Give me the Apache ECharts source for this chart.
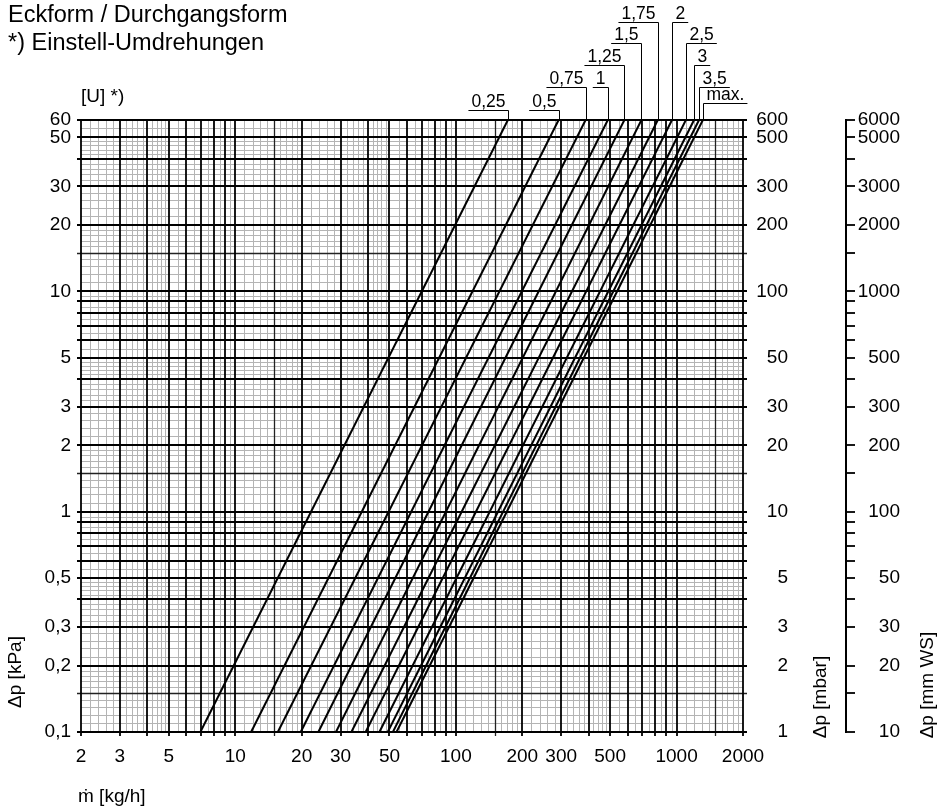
<!DOCTYPE html>
<html><head><meta charset="utf-8">
<script src="https://cdn.jsdelivr.net/npm/echarts@6/dist/echarts.min.js"></script>
<style>html,body{margin:0;padding:0;background:#fff}#c{width:937px;height:810px}</style>
</head><body><div id="c"></div>
<script>
// ---- data ----
const settings = ['0,25','0,5','0,75','1','1,25','1,5','1,75','2','2,5','3','3,5','max.'];
// mass flow (kg/h) where each characteristic crosses Δp = 0.1 kPa (bottom) and Δp = 60 kPa (top)
const flowAtMinDp = [6.95, 11.8, 15.6, 19.8, 23.8, 28.6, 33.6, 39.0, 45.0, 49.1, 51.8, 53.8];
const flowAtMaxDp = [172, 292, 387, 488, 580, 693, 822, 953, 1102, 1200, 1264, 1316];
const dpMin = 0.1, dpMax = 60;
const flowMin = 2, flowMax = 2000;
const xTickValues = [2,3,5,10,20,30,50,100,200,300,500,1000,2000];
const xTickLabels = ['2','3','5','10','20','30','50','100','200','300','500','1000','2000'];
const yTickValues = [0.1,0.2,0.3,0.5,1,2,3,5,10,20,30,50,60];
const kPaLabels  = ['0,1','0,2','0,3','0,5','1','2','3','5','10','20','30','50','60'];
const mbarLabels = ['1','2','3','5','10','20','30','50','100','200','300','500','600'];
const mmwsLabels = ['10','20','30','50','100','200','300','500','1000','2000','3000','5000','6000'];
// label layout (leader rows above the plot, side of leader)
const labelRise = [10,10,33,33,55,77,98,98,77,55,33,17];
const labelSide = ['R','R','R','R','R','R','R','L','L','L','L','L'];

// ---- grid line sets ----
const majorMult = [1,1.5,2,3,4,5,6,7,8,9];
const minorMult = [1.1,1.2,1.3,1.4,1.6,1.7,1.8,1.9,2.2,2.4,2.6,2.8,3.2,3.4,3.6,3.8,4.2,4.4,4.6,4.8,5.5,6.5,7.5,8.5,9.5];
function gen(mults, decades, lo, hi){
  const out=[];
  decades.forEach(d=>mults.forEach(m=>{const v=+(m*d).toPrecision(6); if(v>=lo-1e-9 && v<=hi+1e-9) out.push(v);}));
  return out;
}
const decX=[1,10,100,1000], decY=[0.1,1,10];
const xMajor=gen(majorMult,decX,flowMin,flowMax), xMinor=gen(minorMult,decX,flowMin,flowMax);
const yMajor=gen(majorMult,decY,dpMin,dpMax), yMinor=gen(minorMult,decY,dpMin,dpMax);
const is15=v=>{const r=v/Math.pow(10,Math.floor(Math.log10(v)+1e-9));return Math.abs(r-1.5)<1e-6;};

const FONT='"Liberation Sans", Arial, Helvetica, sans-serif';
const mctx=document.createElement('canvas').getContext('2d');
function tw(t,size){mctx.font=size+'px '+FONT;return mctx.measureText(t).width;}
function snap(v,w){return Math.round(v)+(Math.round(w)%2===1?0.5:0);}

function vLines(values,color,width,extB,z){
  return {type:'custom',silent:true,clip:false,z:z,encode:{x:0,y:1},
    data:values.map(v=>[v,1]),
    renderItem:(p,api)=>{const v=api.value(0);const a=api.coord([v,dpMin]),b=api.coord([v,dpMax]);const x=snap(a[0],width);
      return {type:'line',shape:{x1:x,y1:a[1]+extB,x2:x,y2:b[1]},style:{stroke:color,lineWidth:width}};}};
}
function hLines(values,color,width,extL,extR,z){
  return {type:'custom',silent:true,clip:false,z:z,encode:{x:0,y:1},
    data:values.map(v=>[10,v]),
    renderItem:(p,api)=>{const v=api.value(1);const a=api.coord([flowMin,v]),b=api.coord([flowMax,v]);const y=snap(a[1],width);
      return {type:'line',shape:{x1:a[0]-extL,y1:y,x2:b[0]+extR,y2:y},style:{stroke:color,lineWidth:width}};}};
}
const major15x=xMajor.filter(is15), majorIntX=xMajor.filter(v=>!is15(v));
const major15y=yMajor.filter(is15), majorIntY=yMajor.filter(v=>!is15(v));

const series=[];
series.push(vLines(xMinor,'#b4b4b4',1,0,1));
series.push(hLines(yMinor,'#b4b4b4',1,0,0,1));
series.push(vLines(major15x,'#222',1.3,4,2));
series.push(hLines(major15y,'#222',1.3,4,4,2));
series.push(vLines(majorIntX,'#000',1.8,4,2));
series.push(hLines(majorIntY,'#000',1.8,4,4,2));

// characteristic lines
settings.forEach((s,i)=>{
  series.push({type:'line',name:s,z:3,symbol:'none',silent:true,animation:false,
    data:[[flowAtMinDp[i],dpMin],[flowAtMaxDp[i],dpMax]],
    lineStyle:{color:'#000',width:2}});
});

const TICKF='19px '+FONT;
// x tick labels
series.push({type:'custom',silent:true,clip:false,z:4,encode:{x:0,y:1},
  data:xTickValues.map((v,i)=>[v,1,i]),
  renderItem:(p,api)=>{const i=api.value(2);const a=api.coord([api.value(0),dpMin]);
    return {type:'text',x:a[0],y:a[1]+25,style:{text:xTickLabels[i],font:TICKF,fill:'#000',align:'center',verticalAlign:'middle'}};}});
// y tick labels (three scales)
series.push({type:'custom',silent:true,clip:false,z:4,encode:{x:0,y:1},
  data:yTickValues.map((v,i)=>[10,v,i]),
  renderItem:(p,api)=>{const i=api.value(2);const a=api.coord([flowMin,api.value(1)]);const b=api.coord([flowMax,api.value(1)]);
    const st={font:TICKF,fill:'#000',align:'right',verticalAlign:'middle'};
    return {type:'group',children:[
      {type:'text',x:a[0]-10,y:a[1],style:Object.assign({text:kPaLabels[i]},st)},
      {type:'text',x:b[0]+45,y:a[1],style:Object.assign({text:mbarLabels[i]},st)},
      {type:'text',x:b[0]+157,y:a[1],style:Object.assign({text:mmwsLabels[i]},st)}
    ]};}});
// mm WS axis ticks
series.push({type:'custom',silent:true,clip:false,z:4,encode:{x:0,y:1},
  data:yMajor.map(v=>[10,v]),
  renderItem:(p,api)=>{const b=api.coord([flowMax,api.value(1)]);const y=snap(b[1],2);
    return {type:'line',shape:{x1:b[0]+103,y1:y,x2:b[0]+112,y2:y},style:{stroke:'#000',lineWidth:1.8}};}});
// mm WS axis line
series.push({type:'custom',silent:true,clip:false,z:4,encode:{x:0,y:1},
  data:[[flowMax,dpMin]],
  renderItem:(p,api)=>{const a=api.coord([flowMax,dpMin]),b=api.coord([flowMax,dpMax]);const x=Math.round(a[0]+103);
    return {type:'line',shape:{x1:x,y1:a[1]+0.9,x2:x,y2:b[1]-0.9},style:{stroke:'#000',lineWidth:2}};}});
// setting labels with leaders
series.push({type:'custom',silent:true,clip:false,z:5,encode:{x:0,y:1},
  data:settings.map((s,i)=>[flowAtMaxDp[i],dpMax,i]),
  renderItem:(p,api)=>{const i=api.value(2);const c=api.coord([api.value(0),dpMax]);const x=Math.round(c[0])+0.5;
    const uy=Math.round(c[1]-labelRise[i])+0.5;const w=tw(settings[i],17.5);
    let x1,x2,tx;
    if(labelSide[i]==='R'){x1=x-w-6;x2=x;tx=x-w-3;}else{x1=x;x2=x+w+6;tx=x+3;}
    return {type:'group',children:[
      {type:'line',shape:{x1:x1,y1:uy,x2:x2,y2:uy},style:{stroke:'#000',lineWidth:1}},
      {type:'line',shape:{x1:x,y1:uy,x2:x,y2:c[1]},style:{stroke:'#000',lineWidth:1}},
      {type:'text',x:tx,y:uy-8,style:{text:settings[i],font:'17.5px '+FONT,fill:'#000',align:'left',verticalAlign:'middle'}}
    ]};}});

const chart=echarts.init(document.getElementById('c'),null,{renderer:'canvas'});
chart.setOption({
  animation:false,backgroundColor:'#fff',
  grid:{left:81,right:194,top:120,bottom:78,containLabel:false,outerBoundsMode:'none'},
  xAxis:{type:'log',logBase:10,min:flowMin,max:flowMax,axisLine:{show:false},axisTick:{show:false},axisLabel:{show:false},splitLine:{show:false}},
  yAxis:{type:'log',logBase:10,min:dpMin,max:dpMax,axisLine:{show:false},axisTick:{show:false},axisLabel:{show:false},splitLine:{show:false}},
  graphic:[
    {type:'text',x:8,y:16,style:{text:'Eckform / Durchgangsform',font:'23.5px '+FONT,fill:'#000',verticalAlign:'middle'}},
    {type:'text',x:8,y:44,style:{text:'*) Einstell-Umdrehungen',font:'23.5px '+FONT,fill:'#000',verticalAlign:'middle'}},
    {type:'text',x:81,y:97,style:{text:'[U] *)',font:'19px '+FONT,fill:'#000',verticalAlign:'middle'}},
    {type:'text',x:78,y:797,style:{text:'ṁ [kg/h]',font:'19px '+FONT,fill:'#000',verticalAlign:'middle'}},
    {type:'text',x:16,y:672,rotation:Math.PI/2,style:{text:'Δp [kPa]',font:'19px '+FONT,fill:'#000',align:'center',verticalAlign:'middle'}},
    {type:'text',x:821,y:697,rotation:Math.PI/2,style:{text:'Δp [mbar]',font:'19px '+FONT,fill:'#000',align:'center',verticalAlign:'middle'}},
    {type:'text',x:928,y:685,rotation:Math.PI/2,style:{text:'Δp [mm WS]',font:'19px '+FONT,fill:'#000',align:'center',verticalAlign:'middle'}}
  ],
  series:series
});
</script></body></html>
